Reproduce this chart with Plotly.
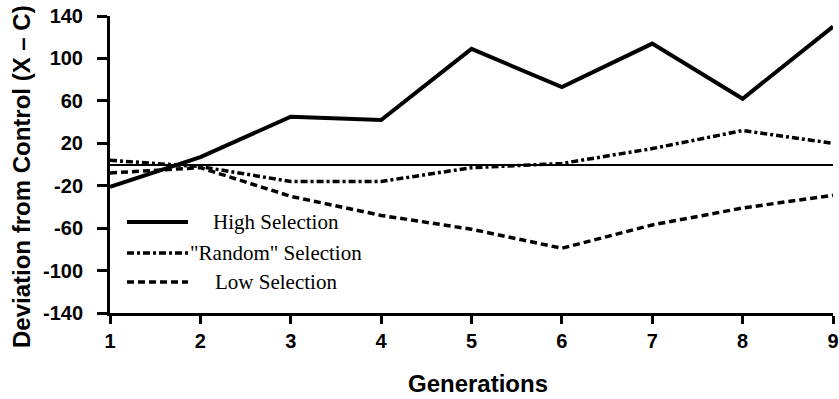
import plotly.graph_objects as go

generations = [1, 2, 3, 4, 5, 6, 7, 8, 9]
high_selection = [-21, 7, 45, 42, 109, 73, 114, 62, 130]
random_selection = [4, -2, -16, -16, -3, 1, 15, 32, 20]
low_selection = [-8, -3, -30, -48, -61, -79, -57, -41, -29]
y_ticks = [140, 100, 60, 20, -20, -60, -100, -140]
y_tick_labels = ["140", "100", "60", "20", "-20", "-60", "-100", "-140"]
series_names = ["High Selection", "\"Random\" Selection", "Low Selection"]

L, R, T, B = 110, 6, 16, 86
W, H = 839, 399
pw, ph = W - L - R, H - T - B

def px_x(px):
    return (px - L) / pw

def px_y(py):
    return (H - B - py) / ph

styles = [
    dict(width=4, dash="solid"),
    dict(width=3.5, dash="7px,3px,3px,3px"),
    dict(width=3.5, dash="7px,4px"),
]

fig = go.Figure()
for name, vals, st in zip(series_names, [high_selection, random_selection, low_selection], styles):
    fig.add_trace(go.Scatter(x=generations, y=vals, mode="lines", name=name,
                             line=dict(color="black", width=st["width"], dash=st["dash"]),
                             showlegend=False, cliponaxis=False))

# manual legend
leg_y = [222, 253, 282]
for name, st, ly in zip(series_names, styles, leg_y):
    fig.add_shape(type="line", xref="paper", yref="paper",
                  x0=px_x(127), x1=px_x(188), y0=px_y(ly), y1=px_y(ly),
                  line=dict(color="black", width=st["width"], dash=st["dash"]))
    fig.add_annotation(xref="paper", yref="paper", x=px_x(276), y=px_y(ly),
                       text=name, showarrow=False, xanchor="center", yanchor="middle",
                       font=dict(family="Liberation Serif", size=21, color="black"))

fig.add_annotation(xref="paper", yref="paper", x=px_x(478), y=px_y(383),
                   text="<b>Generations</b>", showarrow=False, xanchor="center", yanchor="middle",
                   font=dict(family="Liberation Sans", size=24, color="black"))
fig.add_annotation(xref="paper", yref="paper", x=px_x(21), y=px_y(177),
                   text="<b>Deviation from Control (X \u2013 C)</b>", showarrow=False,
                   textangle=-90, xanchor="center", yanchor="middle",
                   font=dict(family="Liberation Sans", size=24, color="black"))

fig.update_layout(
    width=W, height=H,
    margin=dict(l=L, r=R, t=T, b=B, pad=0, autoexpand=False),
    paper_bgcolor="white", plot_bgcolor="white",
    font=dict(family="Liberation Sans", color="black"),
)
fig.update_xaxes(range=[1, 9], tickvals=generations, showline=True, linewidth=3, linecolor="black",
                 ticks="outside", ticklen=8, tickwidth=3, tickcolor="black", showgrid=False,
                 zeroline=False, automargin=False,
                 tickfont=dict(size=20, family="Liberation Sans", weight="bold"))
fig.update_yaxes(range=[-140, 140], tickvals=y_ticks, ticktext=y_tick_labels, showline=True,
                 linewidth=3, linecolor="black",
                 ticks="outside", ticklen=10, tickwidth=3, tickcolor="black", showgrid=False,
                 zeroline=True, zerolinewidth=1.5, zerolinecolor="black", ticklabelstandoff=10,
                 automargin=False,
                 tickfont=dict(size=20, family="Liberation Sans", weight="bold"))

fig.write_html("out.html", config={"displayModeBar": False},
               post_script="document.body.style.margin='0';document.body.style.overflow='hidden';")
